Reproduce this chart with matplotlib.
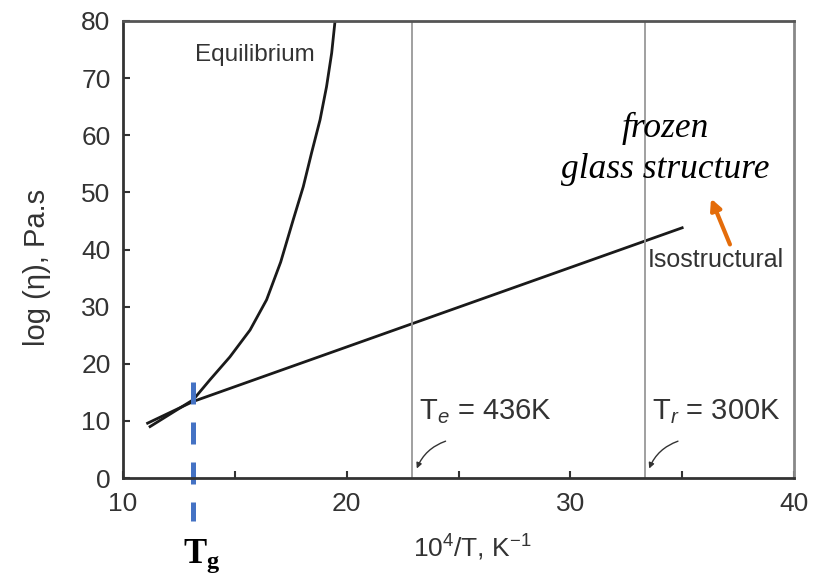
import matplotlib
matplotlib.use("Agg")
import matplotlib.pyplot as plt

plt.rcParams["mathtext.fontset"] = "custom"
plt.rcParams["mathtext.rm"] = "Liberation Sans"
plt.rcParams["mathtext.it"] = "Liberation Sans:italic"
plt.rcParams["mathtext.bf"] = "Liberation Serif:bold"

# values
eq_x = [11.21, 12.40, 13.14, 13.89, 14.78, 15.68, 16.42, 17.05, 17.61,
        18.06, 18.43, 18.81, 19.10, 19.33, 19.48]
eq_y = [9.0, 11.9, 13.7, 17.2, 21.2, 25.9, 31.2, 37.8, 45.2,
        51.0, 56.9, 62.7, 68.5, 74.4, 80.0]
iso_x = [11.1, 13.14, 35.0]
iso_y = [9.6, 13.4, 43.8]
tg_x = 13.13
vlines_x = [22.94, 33.33]
vline_labels = ["T$_e$ = 436K", "T$_r$ = 300K"]

W, H = 821, 577
fig = plt.figure(figsize=(W / 100, H / 100), dpi=100)
ax = fig.add_axes([123 / W, (H - 478) / H, (794 - 123) / W, (478 - 21) / H])

ax.set_xlim(10, 40)
ax.set_ylim(0, 80)

ax.plot(eq_x, eq_y, color="#1a1a1a", lw=2)
ax.plot(iso_x, iso_y, color="#1a1a1a", lw=2)

for xv in vlines_x:
    ax.axvline(xv, color="#999999", lw=1.3)

# labels for the two vertical lines with small curved arrows
for xv, lab in zip(vlines_x, vline_labels):
    ax.text(xv + 0.3, 11.6, lab, fontsize=21, family="Liberation Sans",
            color="#333333", va="center", ha="left")
    ax.annotate("", xy=(xv + 0.15, 1.2), xytext=(xv + 1.6, 6.6),
                arrowprops=dict(arrowstyle="-|>", color="#333333", lw=1,
                                mutation_scale=8,
                                connectionstyle="arc3,rad=0.25"))

ax.text(13.2, 74.1, "Equilibrium", fontsize=17.5, family="Liberation Sans",
        color="#333333", va="center", ha="left")
ax.text(33.45, 38.2, "Isostructural", fontsize=18, family="Liberation Sans",
        color="#333333", va="center", ha="left")

# ticks
ax.set_xticks([10, 20, 30, 40])
ax.set_xticks([15, 25, 35], minor=True)
ax.set_yticks(range(0, 90, 10))
ax.tick_params(axis="both", which="both", direction="in", length=5,
               width=1.5, color="#333333", labelcolor="#333333",
               labelsize=19)
ax.tick_params(axis="x", pad=10)
ax.tick_params(axis="y", pad=9)
for lab in ax.get_xticklabels() + ax.get_yticklabels():
    lab.set_family("Liberation Sans")

for sp in ax.spines.values():
    sp.set_color("#333333")
    sp.set_linewidth(2)
ax.spines["right"].set_color("#888888")
ax.spines["top"].set_color("#555555")

fig.text(37 / W, 1 - 267 / H, "log (\u03b7), Pa.s", fontsize=21,
         family="Liberation Sans", color="#333333", rotation=90,
         ha="center", va="center")
fig.text(472 / W, 1 - 548 / H, "10$^4$/T, K$^{-1}$", fontsize=19,
         family="Liberation Sans", color="#333333", ha="center", va="center")

# overlay: Tg dashed marker
ax.plot([tg_x, tg_x], [16.8, -7.5], color="#4472C4", lw=3.6,
        dashes=(4.4, 3.6), clip_on=False)
fig.text(183 / W, 1 - 556 / H, r"$\mathbf{T_g}$", fontsize=25,
         ha="left", va="center")

# overlay: frozen glass structure note
fig.text(665 / W, 1 - 128 / H, "frozen", fontsize=25.5,
         family="Liberation Serif", style="italic", ha="center", va="center")
fig.text(665 / W, 1 - 170 / H, "glass structure", fontsize=25.5,
         family="Liberation Serif", style="italic", ha="center", va="center")
fig.patches.append(matplotlib.patches.FancyArrowPatch(
    (731 / W, 1 - 247 / H), (710 / W, 1 - 196 / H),
    transform=fig.transFigure, arrowstyle="-|>", mutation_scale=16,
    color="#E46C0A", lw=3))

fig.savefig("out.png", dpi=100)
